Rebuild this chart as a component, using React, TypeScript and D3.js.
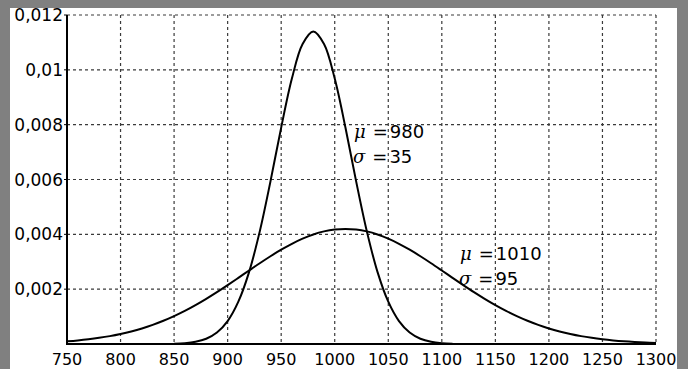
import React from "react";
import * as d3 from "d3";

const xTicks = [750, 800, 850, 900, 950, 1000, 1050, 1100, 1150, 1200, 1250, 1300];
const yTicks = [0.002, 0.004, 0.006, 0.008, 0.01, 0.012];
const yTickLabels = ["0,002", "0,004", "0,006", "0,008", "0,01", "0,012"];

// wide curve (mu=1010, sigma=95), x = 750..1300 step 10
const wideX = d3.range(750, 1301, 10);
const wideY = [
  0.0000992, 0.000132, 0.000173, 0.000224, 0.000287, 0.000365, 0.000458, 0.000568, 0.000698, 0.000847,
  0.001017, 0.001207, 0.001418, 0.001647, 0.001891, 0.002148, 0.002413, 0.002681, 0.002946, 0.003201,
  0.00344, 0.003656, 0.003843, 0.003995, 0.004107, 0.004176, 0.004199, 0.004176, 0.004107, 0.003995,
  0.003843, 0.003656, 0.00344, 0.003201, 0.002946, 0.002681, 0.002413, 0.002148, 0.001891, 0.001647,
  0.001418, 0.001207, 0.001017, 0.000847, 0.000698, 0.000568, 0.000458, 0.000365, 0.000287, 0.000224,
  0.000173, 0.000132, 0.0000992, 0.000074, 0.0000546, 0.0000398,
];

// narrow curve (mu=980, sigma=35), x = 850..1110 step 10
const narrowX = d3.range(850, 1111, 10);
const narrowY = [
  0.0000115, 0.0000319, 0.0000816, 0.000192, 0.000418, 0.000836, 0.001543, 0.002622, 0.004108, 0.005932,
  0.007894, 0.009681, 0.010942, 0.011398, 0.010942, 0.009681, 0.007894, 0.005932, 0.004108, 0.002622,
  0.001543, 0.000836, 0.000418, 0.000192, 0.0000816, 0.0000319, 0.0000115,
];

const annotations = [
  { mu: "980", sigma: "35", x: 1018, y: 0.00751 },
  { mu: "1010", sigma: "95", x: 1117, y: 0.00306 },
];

const W = 688;
const H = 369;

export default function App() {
  const x = d3.scaleLinear().domain([750, 1300]).range([67, 656]);
  const y = d3.scaleLinear().domain([0, 0.012]).range([344, 15]);
  const line = d3
    .line<[number, number]>()
    .x((d) => x(d[0]))
    .y((d) => y(d[1]))
    .curve(d3.curveCatmullRom);
  const wide = line(wideX.map((v, i) => [v, wideY[i]] as [number, number]));
  const narrow = line(narrowX.map((v, i) => [v, narrowY[i]] as [number, number]));
  const font = "'DejaVu Sans', Verdana, sans-serif";
  const gridCol = "#3a3a3a";

  return (
    <div style={{ position: "fixed", left: 0, top: 0, width: W, height: H }}>
      <svg width={W} height={H} style={{ display: "block" }}>
        <rect x={0} y={0} width={W} height={H} fill="#808080" />
        <rect x={10} y={8} width={667} height={H - 8} fill="#ffffff" />
        {/* grid */}
        {xTicks.slice(1).map((t) => (
          <line key={"gx" + t} x1={x(t)} x2={x(t)} y1={y(0.012)} y2={y(0)} stroke={gridCol} strokeWidth={1.2} strokeDasharray="3,3" />
        ))}
        {yTicks.map((t) => (
          <line key={"gy" + t} x1={x(750)} x2={x(1300)} y1={y(t)} y2={y(t)} stroke={gridCol} strokeWidth={1.2} strokeDasharray="3,3" />
        ))}
        {/* curves */}
        <path d={wide || ""} fill="none" stroke="#000" strokeWidth={2} />
        <path d={narrow || ""} fill="none" stroke="#000" strokeWidth={2} />
        {/* axes */}
        <line x1={x(750)} x2={x(750)} y1={y(0.012)} y2={y(0) + 1} stroke="#000" strokeWidth={2} />
        <line x1={x(750) - 1} x2={x(1300)} y1={y(0)} y2={y(0)} stroke="#000" strokeWidth={2} />
        {yTicks.map((t, i) => (
          <g key={"yl" + t}>
            <line x1={x(750) - 3} x2={x(750)} y1={y(t)} y2={y(t)} stroke="#000" strokeWidth={1} />
            <text x={x(750) - 4} y={y(t) + 6} textAnchor="end" fontFamily={font} fontSize={17} fill="#000">
              {yTickLabels[i]}
            </text>
          </g>
        ))}
        {xTicks.map((t) => (
          <text key={"xl" + t} x={x(t)} y={365} textAnchor="middle" fontFamily={font} fontSize={16} fill="#000">
            {t}
          </text>
        ))}
        {/* annotations */}
        {annotations.map((a) => (
          <g key={a.mu} fontSize={18} fill="#000">
            <text x={x(a.x)} y={y(a.y)} fontFamily={font}>
              <tspan fontFamily="'DejaVu Serif', serif" fontStyle="italic">μ</tspan>
              <tspan dx={7}>=</tspan>
              <tspan dx={2}>{a.mu}</tspan>
            </text>
            <text x={x(a.x) - 1} y={y(a.y) + 24.5} fontFamily={font}>
              <tspan fontFamily="'DejaVu Serif', serif" fontStyle="italic">σ</tspan>
              <tspan dx={7}>=</tspan>
              <tspan dx={2}>{a.sigma}</tspan>
            </text>
          </g>
        ))}
      </svg>
    </div>
  );
}
